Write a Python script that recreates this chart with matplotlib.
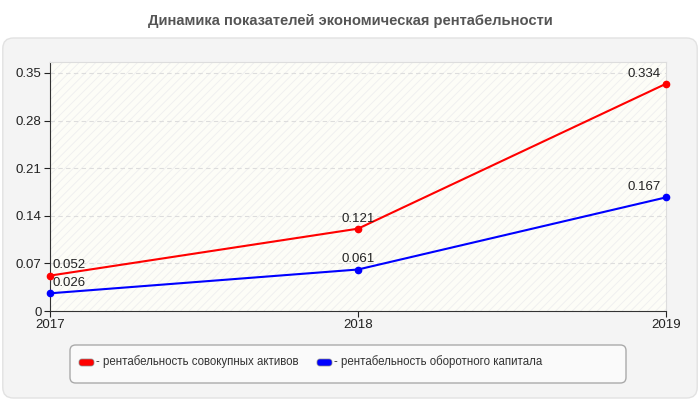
import matplotlib.pyplot as plt
from matplotlib.patches import FancyBboxPatch

# данные
years = ["2017", "2018", "2019"]
assets = [0.052, 0.121, 0.334]
working = [0.026, 0.061, 0.167]
labels = ["рентабельность совокупных активов", "рентабельность оборотного капитала"]
yticks = [0, 0.07, 0.14, 0.21, 0.28, 0.35]
ytick_labels = ["0", "0.07", "0.14", "0.21", "0.28", "0.35"]

plt.rcParams['font.family'] = ['Liberation Sans', 'DejaVu Sans']
plt.rcParams['hatch.linewidth'] = 0.6

fig = plt.figure(figsize=(7, 4), dpi=100, facecolor="white")

# серая подложка
bg = FancyBboxPatch((0.004, 0.005), 0.992, 0.9, boxstyle="round,pad=0,rounding_size=0.015",
                    transform=fig.transFigure, facecolor="#f4f4f4", edgecolor="#e2e2e2",
                    linewidth=1, mutation_aspect=1.75, zorder=-2)
fig.patches.append(bg)

fig.text(0.5, 0.948, "Динамика показателей экономическая рентабельности", ha="center", va="center",
         fontsize=10.6, fontweight="bold", color="#555555")

ax = fig.add_axes([50/700, 1 - 311/400, 616/700, 249/400])
ax.set_zorder(2)
ax.set_facecolor("#fdfdf7")
ax.add_patch(plt.Rectangle((0, 0), 1, 1, transform=ax.transAxes, facecolor="none",
                           edgecolor="#efefef", hatch="////", linewidth=0, zorder=0))

x = range(len(years))
ax.plot(x, assets, color="#ff0000", linewidth=1.5, marker="o", markersize=4.5, zorder=3, clip_on=False)
ax.plot(x, working, color="#0000ff", linewidth=1.5, marker="o", markersize=4.5, zorder=3, clip_on=False)

ax.set_xlim(0, 2)
ax.set_ylim(0, 0.366)
ax.set_yticks(yticks)
ax.set_yticklabels(ytick_labels)
ax.set_xticks(list(x))
ax.set_xticklabels(years)
ax.tick_params(labelsize=9.5, colors="#222222", length=4, pad=2)
ax.grid(axis="y", color="#dddddd", linestyle=(0, (4, 3)), linewidth=0.8)
ax.set_axisbelow(True)
for s in ["top", "right"]:
    ax.spines[s].set_color("#dddddd")
for s in ["left", "bottom"]:
    ax.spines[s].set_color("#333333")

for series in (assets, working):
    for i, v in enumerate(series):
        ha = "left" if i == 0 else ("right" if i == len(series) - 1 else "center")
        dx = 2 if i == 0 else (-4 if i == len(series) - 1 else 0)
        ax.annotate(f"{v:.3f}", (i, v), xytext=(dx, 3), textcoords="offset points",
                    ha=ha, va="bottom", fontsize=9.5, color="#222222", annotation_clip=False)

# легенда
leg = FancyBboxPatch((70/700, 1 - 383/400), 556/700, 38/400,
                     boxstyle="round,pad=0,rounding_size=0.008", transform=fig.transFigure,
                     facecolor="#fafafa", edgecolor="#aaaaaa", linewidth=1, mutation_aspect=1.75,
                     zorder=-1)
fig.patches.append(leg)
for xs, c, lab in [(79, "#ff0000", labels[0]), (317, "#0000ff", labels[1])]:
    fig.patches.append(FancyBboxPatch((xs/700, 1 - 366/400), 15/700, 7/400,
                                      boxstyle="round,pad=0,rounding_size=0.004",
                                      transform=fig.transFigure, facecolor=c,
                                      edgecolor="#888888", linewidth=0.5, mutation_aspect=1.75))
    fig.text((xs + 17)/700, 1 - 362/400, "- " + lab, ha="left", va="center",
             fontsize=8.3, color="#333333")

fig.savefig("out.png", dpi=100, facecolor="white")
